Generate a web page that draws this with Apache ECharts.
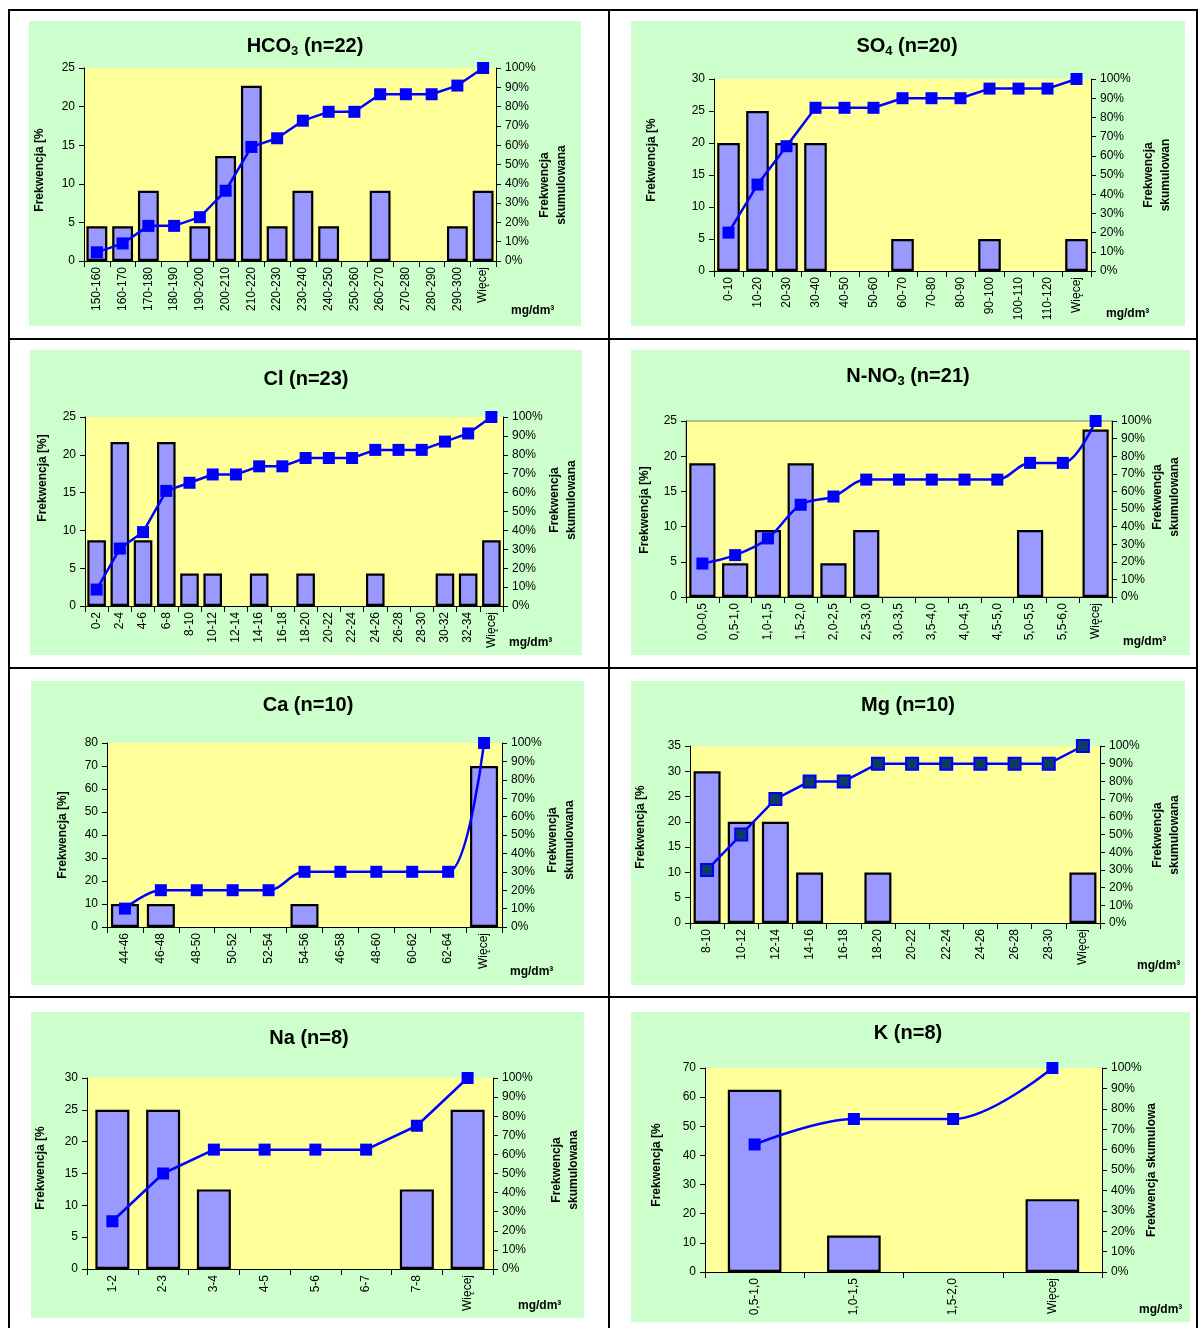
<!DOCTYPE html>
<html><head><meta charset="utf-8">
<script src="https://cdn.jsdelivr.net/npm/echarts@6/dist/echarts.min.js"></script>
<style>html,body{margin:0;padding:0;background:#fff}#c{width:1198px;height:1328px}</style>
</head><body><div id="c"></div>
<script>
// ---------- DATA ----------
const hco3Categories = ['150-160','160-170','170-180','180-190','190-200','200-210','210-220','220-230','230-240','240-250','250-260','260-270','270-280','280-290','290-300','Więcej'];
const hco3Freq = [4.5,4.5,9.1,0,4.5,13.6,22.7,4.5,9.1,4.5,0,9.1,0,0,4.5,9.1];
const hco3Cum  = [4.5,9.1,18.2,18.2,22.7,36.4,59.1,63.6,72.7,77.3,77.3,86.4,86.4,86.4,90.9,100];

const so4Categories = ['0-10','10-20','20-30','30-40','40-50','50-60','60-70','70-80','80-90','90-100','100-110','110-120','Więcej'];
const so4Freq = [20,25,20,20,0,0,5,0,0,5,0,0,5];
const so4Cum  = [20,45,65,85,85,85,90,90,90,95,95,95,100];

const clCategories = ['0-2','2-4','4-6','6-8','8-10','10-12','12-14','14-16','16-18','18-20','20-22','22-24','24-26','26-28','28-30','30-32','32-34','Więcej'];
const clFreq = [8.7,21.7,8.7,21.7,4.3,4.3,0,4.3,0,4.3,0,0,4.3,0,0,4.3,4.3,8.7];
const clCum  = [8.7,30.4,39.1,60.9,65.2,69.6,69.6,73.9,73.9,78.3,78.3,78.3,82.6,82.6,82.6,87.0,91.3,100];

const no3Categories = ['0,0-0,5','0,5-1,0','1,0-1,5','1,5-2,0','2,0-2,5','2,5-3,0','3,0-3,5','3,5-4,0','4,0-4,5','4,5-5,0','5,0-5,5','5,5-6,0','Więcej'];
const no3Freq = [19.0,4.8,9.5,19.0,4.8,9.5,0,0,0,0,9.5,0,23.8];
const no3Cum  = [19.0,23.8,33.3,52.4,57.1,66.7,66.7,66.7,66.7,66.7,76.2,76.2,100];

const caCategories = ['44-46','46-48','48-50','50-52','52-54','54-56','46-58','48-60','60-62','62-64','Więcej'];
const caFreq = [10,10,0,0,0,10,0,0,0,0,70];
const caCum  = [10,20,20,20,20,30,30,30,30,30,100];

const mgCategories = ['8-10','10-12','12-14','14-16','16-18','18-20','20-22','22-24','24-26','26-28','28-30','Więcej'];
const mgFreq = [30,20,20,10,0,10,0,0,0,0,0,10];
const mgCum  = [30,50,70,80,80,90,90,90,90,90,90,100];

const naCategories = ['1-2','2-3','3-4','4-5','5-6','6-7','7-8','Więcej'];
const naFreq = [25,25,12.5,0,0,0,12.5,25];
const naCum  = [25,50,62.5,62.5,62.5,62.5,75,100];

const kCategories = ['0,5-1,0','1,0-1,5','1,5-2,0','Więcej'];
const kFreq = [62.5,12.5,0,25];
const kCum  = [62.5,75,75,100];

const titles = ['{t|HCO}{s|3}{t| (n=22)}','{t|SO}{s|4}{t| (n=20)}','{t|Cl (n=23)}','{t|N-NO}{s|3}{t| (n=21)}',
                '{t|Ca (n=10)}','{t|Mg (n=10)}','{t|Na (n=8)}','{t|K (n=8)}'];
const leftNames = ['Frekwencja [%','Frekwencja [%','Frekwencja [%]','Frekwencja [%]','Frekwencja [%]','Frekwencja [%','Frekwencja [%','Frekwencja [%'];
const rightNames = ['Frekwencja\nskumulowana','Frekwencja\nskumulowan','Frekwencja\nskumulowana','Frekwencja\nskumulowana',
                    'Frekwencja\nskumulowana','Frekwencja\nskumulowana','Frekwencja\nskumulowana','Frekwencja skumulowa'];
const unitLabel = 'mg/dm³';

// ---------- LAYOUT ----------
const FONT = "'Liberation Sans', Arial, sans-serif";
const panels = [
  {cats:hco3Categories, freq:hco3Freq, cum:hco3Cum, yMax:25, yStep:5, smooth:false, gap:'19%',
   box:[29,21,581,326], plot:[84,68,496,261], title:[305,46], ln:[40,170], rn:[553,185], unit:[511,311]},
  {cats:so4Categories, freq:so4Freq, cum:so4Cum, yMax:30, yStep:5, smooth:false, gap:'22%',
   box:[631,21,1185,326], plot:[714,79,1091,271], title:[907,46], ln:[652,160], rn:[1157,175], unit:[1106,314]},
  {cats:clCategories, freq:clFreq, cum:clCum, yMax:25, yStep:5, smooth:false, gap:'20%',
   box:[30,350,582,655], plot:[85,417,503,606], title:[306,379], ln:[43,478], rn:[563,500], unit:[509,643]},
  {cats:no3Categories, freq:no3Freq, cum:no3Cum, yMax:25, yStep:5, smooth:0.35, gap:'20%', border:true,
   box:[631,350,1190,655], plot:[686,421,1112,597], title:[908,376], ln:[645,510], rn:[1166,497], unit:[1123,642]},
  {cats:caCategories, freq:caFreq, cum:caCum, yMax:80, yStep:10, smooth:0.35, gap:'22%',
   box:[31,681,584,985], plot:[107,743,502,927], title:[308,705], ln:[63,835], rn:[561,840], unit:[510,972]},
  {cats:mgCategories, freq:mgFreq, cum:mgCum, yMax:35, yStep:5, smooth:false, gap:'21%', darkMarker:true,
   box:[631,681,1185,985], plot:[690,746,1100,923], title:[908,705], ln:[641,827], rn:[1166,835], unit:[1137,966]},
  {cats:naCategories, freq:naFreq, cum:naCum, yMax:30, yStep:5, smooth:false, gap:'33%',
   box:[31,1012,584,1318], plot:[87,1078,493,1269], title:[309,1038], ln:[41,1168], rn:[565,1170], unit:[518,1306]},
  {cats:kCategories, freq:kFreq, cum:kCum, yMax:70, yStep:10, smooth:0.35, gap:'46%',
   box:[631,1012,1190,1322], plot:[705,1068,1102,1272], title:[908,1033], ln:[657,1165], rn:[1152,1170], unit:[1139,1310]}
];

const grid = [], xAxis = [], yAxis = [], series = [], graphic = [];

// table frame
graphic.push({type:'rect', z:-20, shape:{x:9,y:10,width:1188,height:1330}, style:{fill:'#fff', stroke:'#000', lineWidth:2}});
[[609,10,609,1330],[9,339,1197,339],[9,668,1197,668],[9,997,1197,997]].forEach(l=>{
  graphic.push({type:'line', z:-18, shape:{x1:l[0],y1:l[1],x2:l[2],y2:l[3]}, style:{stroke:'#000', lineWidth:2}});
});

panels.forEach((p,i)=>{
  graphic.push({type:'rect', z:-15, shape:{x:p.box[0],y:p.box[1],width:p.box[2]-p.box[0],height:p.box[3]-p.box[1]}, style:{fill:'#CCFFCC'}});
  graphic.push({type:'text', z:50, x:p.title[0], y:p.title[1], style:{text:titles[i], align:'center', verticalAlign:'middle',
    rich:{t:{fontSize:20, fontWeight:'bold', fontFamily:FONT, fill:'#000', lineHeight:24},
          s:{fontSize:13, fontWeight:'bold', fontFamily:FONT, fill:'#000', lineHeight:13, verticalAlign:'bottom'}}}});
  graphic.push({type:'text', z:50, x:p.ln[0], y:p.ln[1], rotation:Math.PI/2, style:{text:leftNames[i], align:'center', verticalAlign:'middle',
    font:'bold 12px '+FONT, fill:'#000'}});
  graphic.push({type:'text', z:50, x:p.rn[0], y:p.rn[1], rotation:Math.PI/2, style:{text:rightNames[i], align:'center', verticalAlign:'middle',
    font:'bold 12px '+FONT, fill:'#000', lineHeight:17}});
  graphic.push({type:'text', z:50, x:p.unit[0], y:p.unit[1], style:{text:unitLabel, align:'left', verticalAlign:'middle',
    font:'bold 12px '+FONT, fill:'#000'}});

  grid.push({left:p.plot[0], top:p.plot[1], width:p.plot[2]-p.plot[0], height:p.plot[3]-p.plot[1],
    show:true, backgroundColor:'#FFFF99', borderWidth:p.border?1:0, borderColor:'#808080'});
  const axisLine = {show:true, onZero:false, lineStyle:{color:'#000', width:1}};
  xAxis.push({type:'category', gridIndex:i, data:p.cats, boundaryGap:true, axisLine:axisLine,
    axisTick:{show:true, interval:0, length:6, lineStyle:{color:'#000'}},
    axisLabel:{interval:0, rotate:90, fontSize:12, color:'#000', fontFamily:FONT, margin:6},
    splitLine:{show:false}});
  yAxis.push({type:'value', gridIndex:i, position:'left', min:0, max:p.yMax, interval:p.yStep, axisLine:axisLine,
    axisTick:{show:true, length:5, lineStyle:{color:'#000'}}, splitLine:{show:false},
    axisLabel:{fontSize:12, color:'#000', fontFamily:FONT, margin:9}});
  yAxis.push({type:'value', gridIndex:i, position:'right', min:0, max:100, interval:10, axisLine:axisLine,
    axisTick:{show:true, length:5, lineStyle:{color:'#000'}}, splitLine:{show:false},
    axisLabel:{fontSize:12, color:'#000', fontFamily:FONT, margin:9, formatter:'{value}%'}});
  // empty classes draw no bar at all
  series.push({type:'bar', xAxisIndex:i, yAxisIndex:2*i, data:p.freq.map(v => v === 0 ? null : v), barCategoryGap:p.gap, z:2,
    itemStyle:{color:'#9999FF', borderColor:'#000', borderWidth:2.2}, animation:false});
  series.push({type:'line', xAxisIndex:i, yAxisIndex:2*i+1, data:p.cum, smooth:p.smooth, z:3,
    symbol:'rect', symbolSize:12, showAllSymbol:true,
    lineStyle:{color:'#0000FF', width:2.5},
    itemStyle:p.darkMarker ? {color:'#0D3B66', borderColor:'#0000FF', borderWidth:2} : {color:'#0000FF'},
    animation:false});
});

const chart = echarts.init(document.getElementById('c'), null, {renderer:'canvas'});
chart.setOption({backgroundColor:'#fff', animation:false, grid, xAxis, yAxis, series, graphic:{elements:graphic}});
</script></body></html>
